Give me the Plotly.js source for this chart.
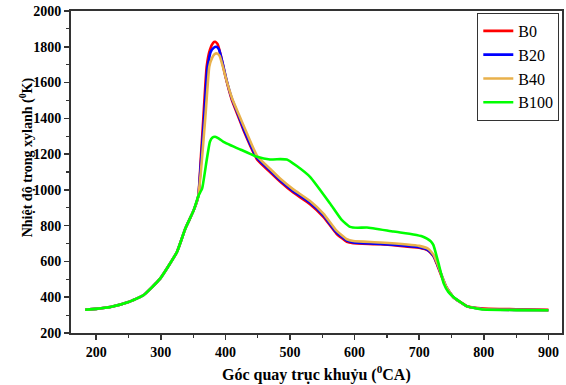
<!DOCTYPE html>
<html>
<head>
<meta charset="utf-8">
<script src="https://cdn.plot.ly/plotly-3.0.1.min.js"></script>
<style>
  html, body { margin: 0; padding: 0; background: #fff; }
  #chart { width: 566px; height: 385px; }
</style>
</head>
<body>
<div id="chart"></div>
<script>
// Crank angle (°CA) and in-cylinder temperature (K) for each fuel blend.
// Compression stroke is common to all blends.
const compX = [183, 200, 222, 250, 273, 299, 325, 338, 351, 358];
const compY = [330, 335, 345, 373, 411, 504, 653, 784, 887, 965];

const b0X = [362, 366, 371, 376, 381, 384, 388, 393, 400, 410, 420, 430, 449, 469, 485, 505, 531, 552, 572, 588, 598, 640, 700, 714, 722, 727, 735, 742, 753, 774, 800, 850, 900];
const b0Y = [1180, 1409, 1689, 1783, 1822, 1828, 1815, 1750, 1635, 1502, 1409, 1316, 1170, 1100, 1045, 985, 920, 848, 755, 710, 702, 696, 676, 660, 630, 588, 513, 456, 400, 350, 337, 333, 329];

const b20X = [362, 367, 372, 377, 382, 386, 390, 395, 402, 410, 420, 430, 449, 469, 485, 505, 531, 552, 572, 588, 598, 640, 700, 714, 722, 728, 736, 742, 753, 774, 800, 850, 900];
const b20Y = [1150, 1400, 1680, 1770, 1795, 1800, 1785, 1720, 1610, 1510, 1418, 1325, 1178, 1108, 1052, 993, 928, 856, 762, 716, 706, 698, 679, 662, 632, 585, 510, 456, 400, 349, 333, 329, 327];

const b40X = [362, 369, 375, 379, 383, 387, 391, 396, 403, 411, 421, 431, 449, 469, 485, 505, 531, 552, 572, 588, 598, 640, 700, 714, 722, 728, 736, 742, 753, 774, 800, 850, 900];
const b40Y = [1100, 1409, 1689, 1735, 1758, 1763, 1750, 1690, 1595, 1505, 1420, 1335, 1190, 1118, 1062, 1003, 938, 866, 772, 724, 714, 706, 687, 670, 638, 588, 510, 456, 400, 349, 333, 329, 327];

const b100X = [364, 371, 376, 380, 384, 390, 397, 423, 449, 469, 485, 495, 510, 531, 562, 580, 593, 605, 619, 660, 691, 705, 712, 718, 722, 730, 738, 745, 753, 774, 800, 850, 900];
const b100Y = [1008, 1166, 1269, 1293, 1297, 1287, 1269, 1226, 1185, 1170, 1172, 1170, 1135, 1073, 924, 832, 793, 788, 790, 767, 751, 740, 728, 712, 691, 588, 476, 430, 401, 349, 331, 328, 327];

const seriesNames = ['B0', 'B20', 'B40', 'B100'];
const seriesColors = ['#ff0000', '#0000ff', '#e9b14b', '#00ff00'];
const seriesX = [b0X, b20X, b40X, b100X];
const seriesY = [b0Y, b20Y, b40Y, b100Y];

const xTicks = [200, 300, 400, 500, 600, 700, 800, 900];
const yTicks = [200, 400, 600, 800, 1000, 1200, 1400, 1600, 1800, 2000];

const serif = 'Liberation Serif, Times New Roman, serif';

const traces = seriesNames.map((name, i) => ({
  type: 'scatter',
  mode: 'lines',
  name: name,
  x: compX.concat(seriesX[i]),
  y: compY.concat(seriesY[i]),
  line: { color: seriesColors[i], width: 2.6, shape: 'spline', smoothing: 0.4 }
}));

const axisCommon = {
  showline: true,
  linecolor: '#333',
  linewidth: 2,
  mirror: true,
  showgrid: false,
  zeroline: false,
  ticks: 'outside',
  ticklen: 5,
  tickwidth: 1.5,
  tickcolor: '#333',
  tickfont: { family: serif, size: 14, color: '#000', weight: 'bold' },
};

const layout = {
  width: 566,
  height: 385,
  margin: { l: 71, r: 4, t: 11, b: 52 },
  paper_bgcolor: '#fff',
  plot_bgcolor: '#fff',
  showlegend: true,
  legend: {
    x: 0.9945, y: 0.994, xanchor: 'right', yanchor: 'top',
    bordercolor: '#333', borderwidth: 1, bgcolor: '#fff',
    font: { family: serif, size: 16, color: '#000' },
    tracegroupgap: 0
  },
  xaxis: Object.assign({}, axisCommon, {
    range: [161, 921],
    tickmode: 'array', tickvals: xTicks, ticktext: xTicks.map(String),
    minor: { dtick: 50, tick0: 150, ticks: 'outside', ticklen: 3, tickwidth: 1.2, tickcolor: '#333' }
  }),
  yaxis: Object.assign({}, axisCommon, {
    range: [200, 2000],
    tickmode: 'array', tickvals: yTicks, ticktext: yTicks.map(String),
    minor: { dtick: 100, tick0: 100, ticks: 'outside', ticklen: 3, tickwidth: 1.2, tickcolor: '#333' }
  }),
  annotations: [
    {
      text: 'Góc quay trục khuỷu (<sup>0</sup>CA)',
      xref: 'paper', yref: 'paper', x: 0.5, y: -0.125,
      xanchor: 'center', yanchor: 'middle', showarrow: false,
      font: { family: serif, size: 16, color: '#000', weight: 'bold' }
    },
    {
      text: 'Nhiệt độ trong xylanh (<sup>0</sup>K)',
      xref: 'paper', yref: 'paper', x: -0.09, y: 0.545,
      xanchor: 'center', yanchor: 'middle', textangle: -90, showarrow: false,
      font: { family: serif, size: 14, color: '#000', weight: 'bold' }
    }
  ]
};

Plotly.newPlot('chart', traces, layout, { staticPlot: true, displayModeBar: false });
</script>
</body>
</html>
